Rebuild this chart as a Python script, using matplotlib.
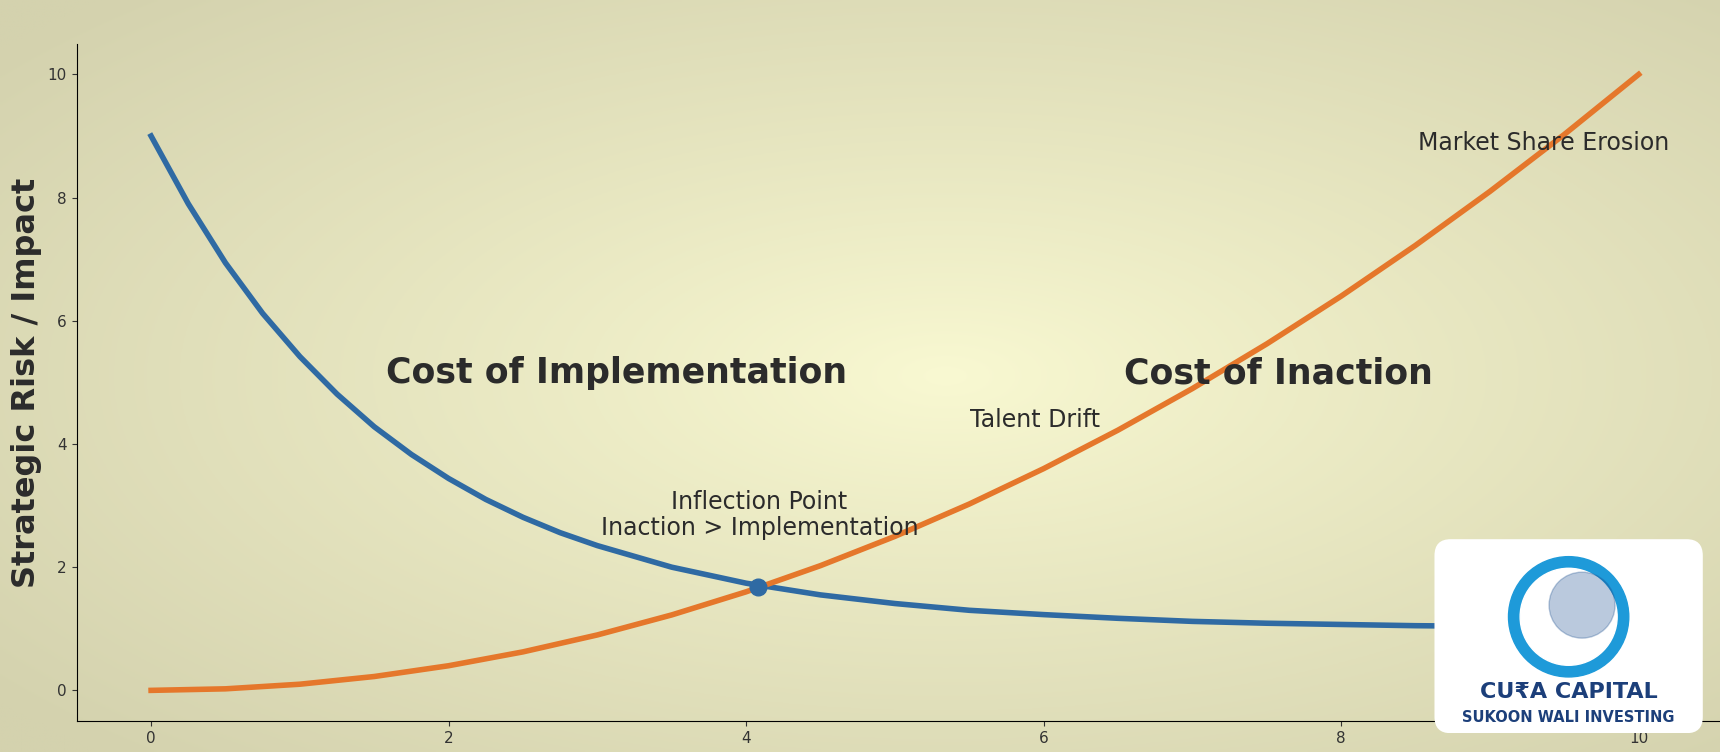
import matplotlib.pyplot as plt
import numpy as np
from matplotlib.patches import FancyBboxPatch, Ellipse

# Values
x_impl = [0, 0.25, 0.5, 0.75, 1, 1.25, 1.5, 1.75, 2, 2.25, 2.5, 2.75, 3, 3.5, 4, 4.5,
          5, 5.5, 6, 6.5, 7, 7.5, 8, 8.5, 9, 9.5, 10]
implementation = [9.0, 7.90, 6.94, 6.12, 5.42, 4.81, 4.28, 3.83, 3.44, 3.10, 2.81, 2.56,
                  2.35, 2.00, 1.74, 1.55, 1.41, 1.30, 1.23, 1.17, 1.12, 1.09, 1.07,
                  1.05, 1.04, 1.03, 1.02]
x_inact = [0, 0.5, 1, 1.5, 2, 2.5, 3, 3.5, 4, 4.5, 5, 5.5, 6, 6.5, 7, 7.5, 8, 8.5, 9, 9.5, 10]
inaction = [0.0, 0.025, 0.1, 0.225, 0.4, 0.625, 0.9, 1.225, 1.6, 2.025, 2.5,
            3.025, 3.6, 4.225, 4.9, 5.625, 6.4, 7.225, 8.1, 9.025, 10.0]
inflection = (4.08, 1.68)
ticks = [0, 2, 4, 6, 8, 10]

BLUE = "#2f6aa3"
ORANGE = "#e5772b"
TEXT = "#2b2b2b"

fig = plt.figure(figsize=(17.2, 7.52), dpi=100)

# radial background glow
bg = fig.add_axes([0, 0, 1, 1], zorder=-10)
yy, xx = np.mgrid[0:1:300j, 0:1:600j]
r = np.sqrt(((xx - 0.55) / 0.7) ** 2 + ((yy - 0.5) / 0.7) ** 2)
r = np.clip(r, 0, 1) ** 0.9
c0 = np.array([0xf9, 0xf9, 0xd2]) / 255
c1 = np.array([0xd4, 0xd2, 0xae]) / 255
img = c0[None, None, :] * (1 - r[..., None]) + c1[None, None, :] * r[..., None]
bg.imshow(img, aspect="auto", extent=[0, 1, 0, 1])
bg.axis("off")

ax = fig.add_axes([0.0446, 0.041, 0.96, 0.901])
ax.patch.set_alpha(0)
ax.plot(x_impl, implementation, color=BLUE, lw=4, solid_joinstyle="round")
ax.plot(x_inact, inaction, color=ORANGE, lw=4, solid_joinstyle="round")
ax.plot(*inflection, "o", color=BLUE, ms=12, zorder=5)

ax.text(3.13, 5.15, "Cost of Implementation", fontsize=25, fontweight="bold",
        color=TEXT, ha="center", va="center")
ax.text(7.58, 5.15, "Cost of Inaction", fontsize=25, fontweight="bold",
        color=TEXT, ha="center", va="center")
ax.text(5.94, 4.39, "Talent Drift", fontsize=17, color=TEXT, ha="center", va="center")
ax.text(4.09, 2.85, "Inflection Point\nInaction > Implementation", fontsize=17,
        color=TEXT, ha="center", va="center", linespacing=1.1)
ax.text(9.36, 8.88, "Market Share Erosion", fontsize=17, color=TEXT,
        ha="center", va="center")

ax.set_xlim(-0.5, 10.6)
ax.set_ylim(-0.5, 10.5)
ax.set_xticks(ticks)
ax.set_yticks(ticks)
ax.tick_params(labelsize=11, colors="#333333")
ax.set_ylabel("Strategic Risk / Impact", fontsize=23, fontweight="bold", color=TEXT)
ax.spines["top"].set_visible(False)
ax.spines["right"].set_visible(False)

# logo card
logo = fig.add_axes([0.834, 0.025, 0.156, 0.258])
logo.set_xlim(0, 1)
logo.set_ylim(0, 1)
logo.axis("off")
logo.add_patch(FancyBboxPatch((0.0, 0.0), 1.0, 1.0, boxstyle="round,pad=0,rounding_size=0.06",
                              facecolor="white", edgecolor="none", mutation_aspect=1.4))
aspect = (0.258 * 752) / (0.156 * 1720)
logo.add_patch(Ellipse((0.5, 0.6), 0.62 * aspect, 0.62, color="#1e9ad9"))
logo.add_patch(Ellipse((0.5, 0.6), 0.5 * aspect, 0.5, color="white"))
logo.add_patch(Ellipse((0.55, 0.66), 0.34 * aspect, 0.34, color="#1c4f8f", alpha=0.3))
logo.text(0.5, 0.21, "CU₹A CAPITAL", fontsize=16, fontweight="bold", color="#1c3f7a",
          ha="center", va="center")
logo.text(0.5, 0.08, "SUKOON WALI INVESTING", fontsize=10.5, fontweight="bold",
          color="#1c3f7a", ha="center", va="center")

fig.savefig("out.png", dpi=100)
